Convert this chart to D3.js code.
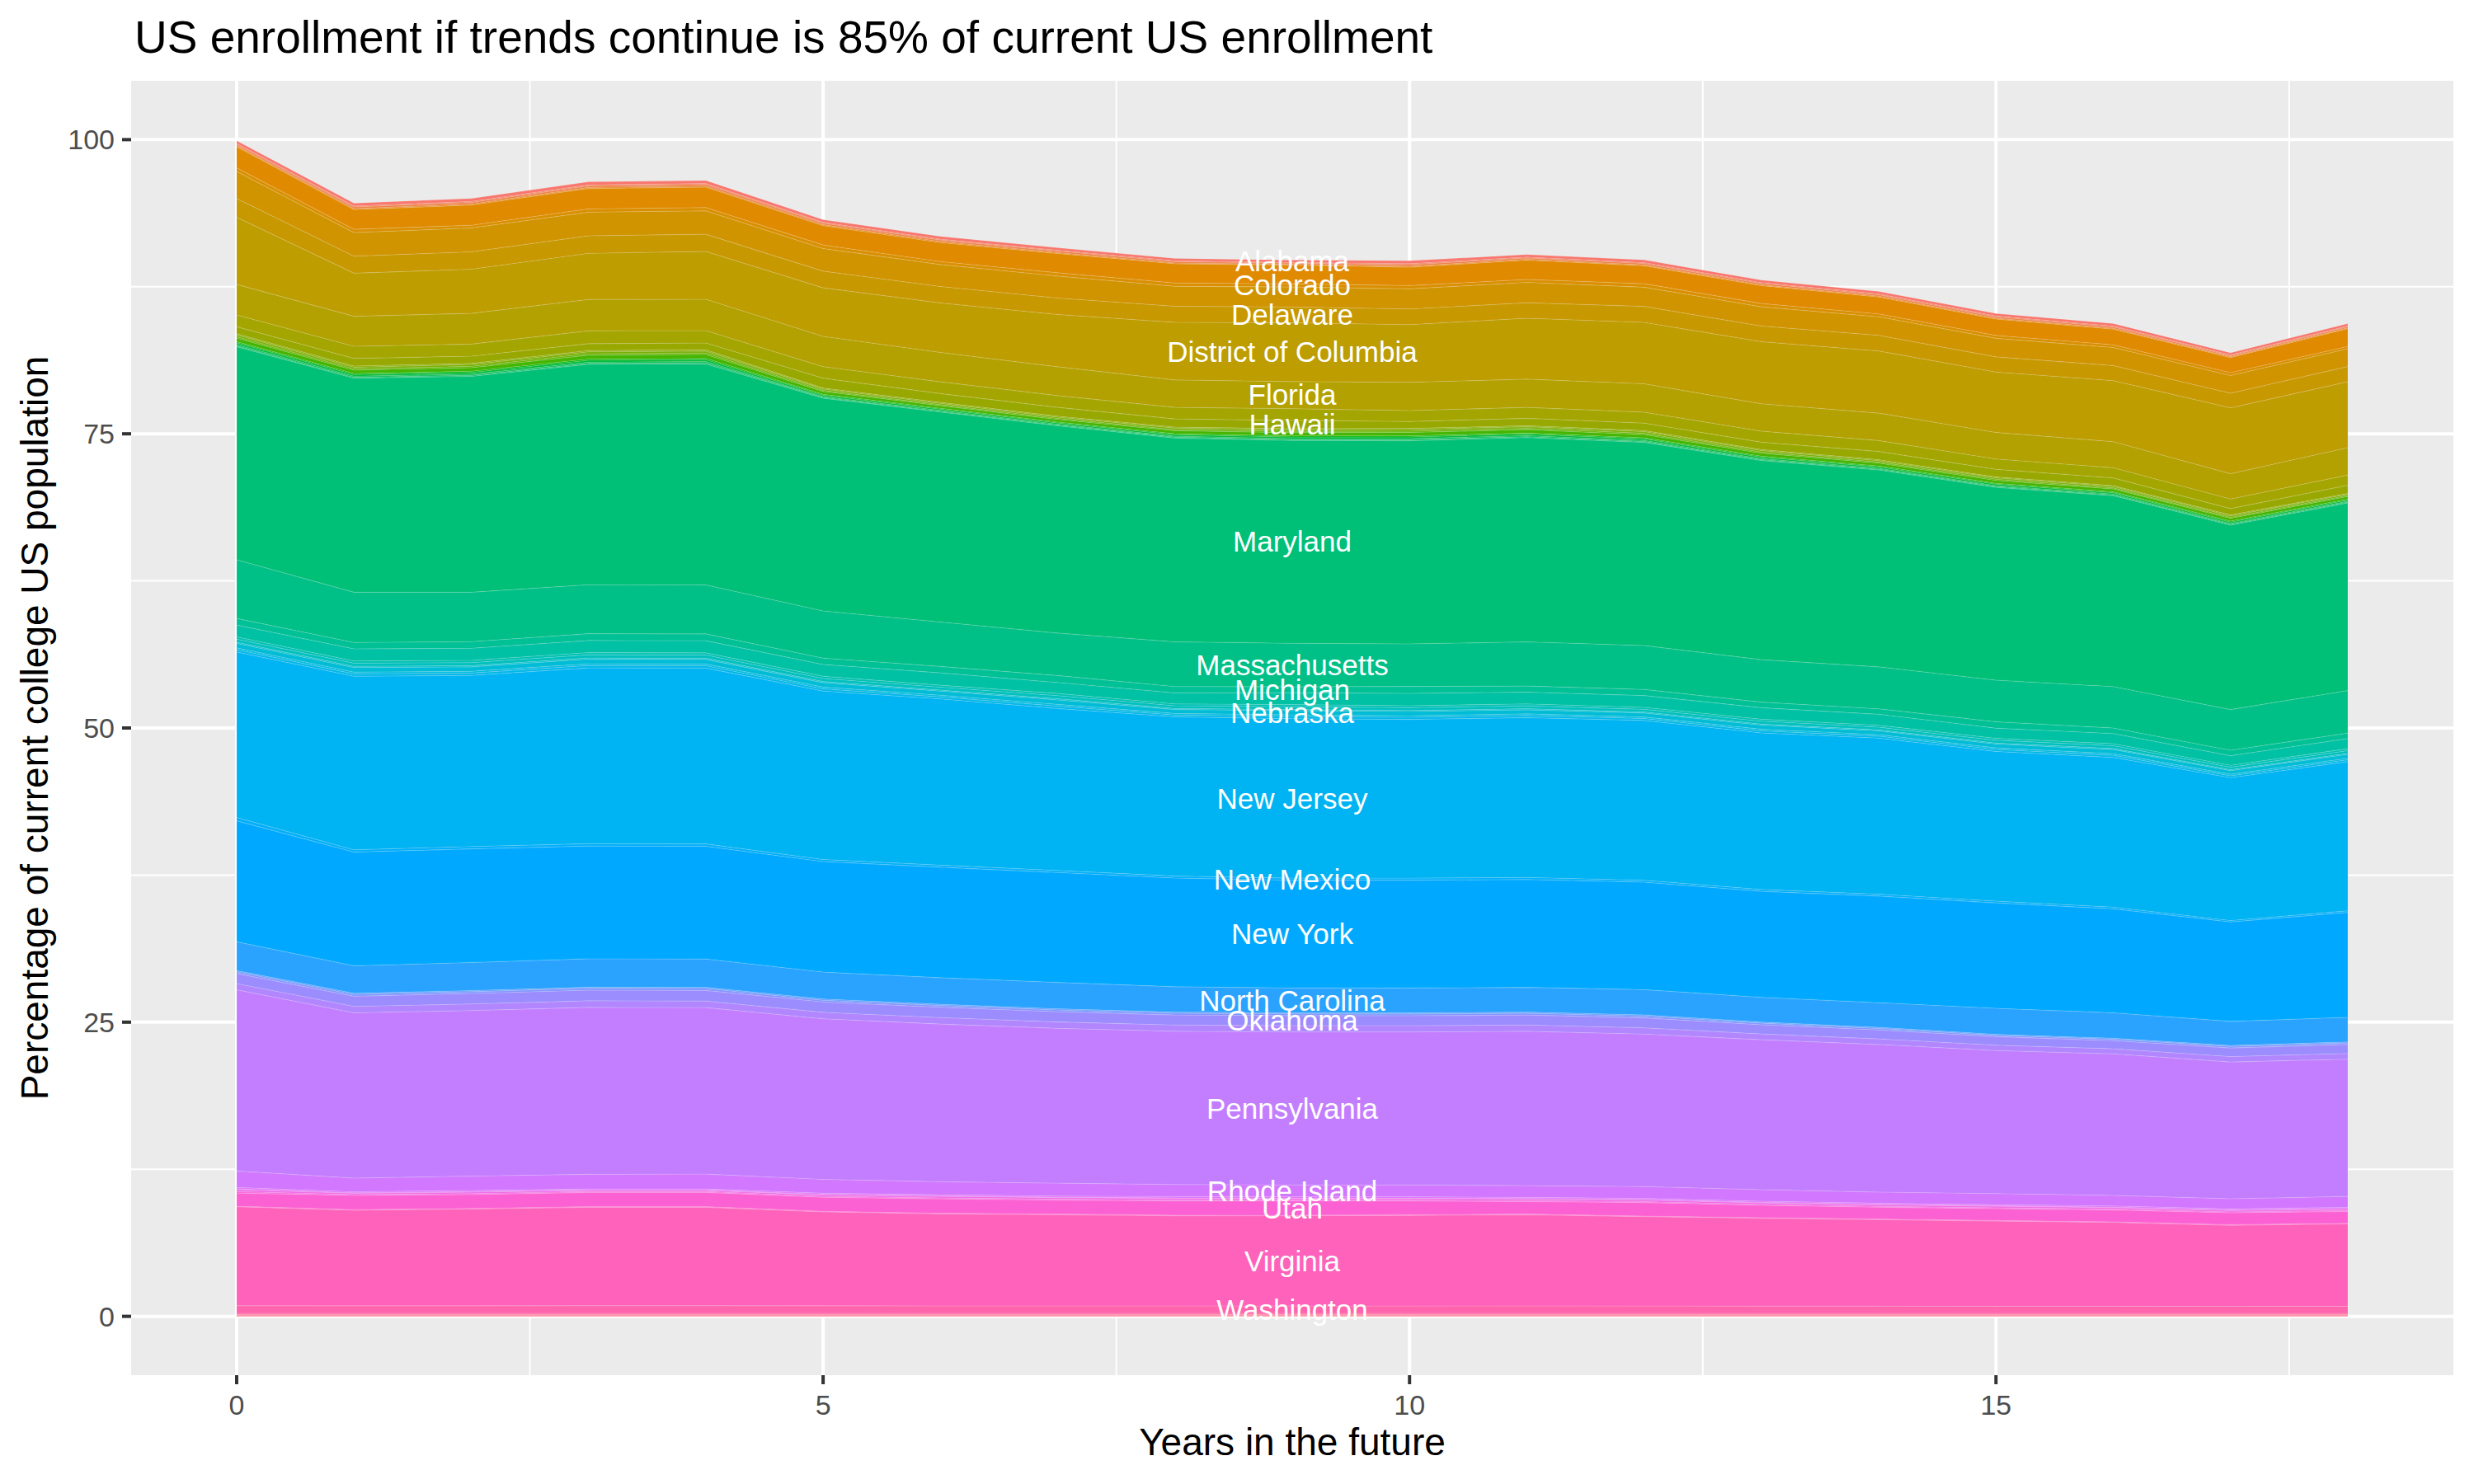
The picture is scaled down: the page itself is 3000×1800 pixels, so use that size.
<!DOCTYPE html>
<html>
<head>
<meta charset="utf-8">
<script src="https://cdn.jsdelivr.net/npm/d3@7"></script>
<style>
  body { margin: 0; background: #ffffff; }
  svg { display: block; }
  text { font-family: "Liberation Sans", Arial, Helvetica, sans-serif; }
</style>
</head>
<body>
<div id="chart"></div>
<script>
// years in the future
var years = [0,1,2,3,4,5,6,7,8,9,10,11,12,13,14,15,16,17,18];

var states = ["Alabama","Alaska","Arizona","Arkansas","California","Colorado","Connecticut","Delaware",
  "District of Columbia","Florida","Georgia","Hawaii","Idaho","Illinois","Indiana","Iowa","Kansas",
  "Kentucky","Louisiana","Maine","Maryland","Massachusetts","Michigan","Minnesota","Mississippi",
  "Missouri","Montana","Nebraska","Nevada","New Hampshire","New Jersey","New Mexico","New York",
  "North Carolina","North Dakota","Ohio","Oklahoma","Oregon","Pennsylvania","Rhode Island",
  "South Carolina","South Dakota","Tennessee","Texas","Utah","Vermont","Virginia","Washington",
  "West Virginia","Wisconsin","Wyoming"];

// states that get a name written on the chart
var labelled = ["Alabama","Colorado","Delaware","District of Columbia","Florida","Hawaii","Maryland",
  "Massachusetts","Michigan","Nebraska","New Jersey","New Mexico","New York","North Carolina",
  "Oklahoma","Pennsylvania","Rhode Island","Utah","Virginia","Washington"];
var labelYear = 9;

// percentage of current college US population, one value per year
var alabama      = [0.22,0.24,0.24,0.25,0.25,0.22,0.23,0.21,0.20,0.19,0.24,0.21,0.22,0.21,0.21,0.20,0.21,0.18,0.19];
var alaska       = [0.07,0.08,0.08,0.08,0.08,0.07,0.07,0.07,0.06,0.06,0.08,0.07,0.07,0.07,0.07,0.07,0.07,0.06,0.06];
var arizona      = [0.13,0.14,0.14,0.14,0.14,0.13,0.13,0.13,0.12,0.11,0.14,0.12,0.13,0.12,0.12,0.12,0.12,0.10,0.11];
var arkansas     = [0.08,0.08,0.09,0.09,0.09,0.09,0.09,0.08,0.07,0.06,0.08,0.07,0.07,0.07,0.07,0.07,0.07,0.06,0.06];
var california   = [1.80,1.68,1.71,1.73,1.73,1.64,1.61,1.63,1.63,1.59,1.56,1.64,1.52,1.51,1.44,1.40,1.33,1.28,1.52];
var colorado     = [0.30,0.28,0.23,0.28,0.28,0.30,0.25,0.28,0.28,0.27,0.28,0.25,0.30,0.28,0.24,0.24,0.23,0.24,0.19];
var connecticut  = [2.30,2.00,2.03,2.01,1.99,1.92,1.87,1.87,1.70,1.70,1.71,1.73,1.63,1.64,1.58,1.58,1.54,1.51,1.51];
var delaware     = [1.60,1.45,1.48,1.49,1.46,1.42,1.40,1.40,1.36,1.34,1.33,1.31,1.36,1.33,1.33,1.29,1.28,1.24,1.29];
var dc           = [5.70,3.66,3.75,3.92,4.07,4.13,4.20,4.44,4.90,5.00,4.90,5.18,5.22,5.27,5.28,5.13,5.19,5.60,5.60];
var florida      = [2.60,2.55,2.61,2.66,2.66,2.57,2.50,2.45,2.33,2.30,2.40,2.40,2.41,2.33,2.33,2.26,2.21,2.15,2.33];
var georgia      = [1.00,1.03,1.03,1.10,1.05,0.98,1.00,1.00,0.98,1.00,0.93,0.93,0.93,0.94,0.93,0.87,0.87,0.81,0.87];
var hawaii       = [0.60,0.65,0.61,0.58,0.58,0.84,0.75,0.75,0.70,0.70,0.59,0.63,0.63,0.63,0.70,0.65,0.65,0.54,0.69];
var idaho        = [0.10,0.10,0.10,0.11,0.11,0.08,0.08,0.08,0.08,0.09,0.09,0.09,0.09,0.08,0.08,0.08,0.08,0.08,0.07];
var illinois     = [0.15,0.14,0.15,0.16,0.16,0.12,0.11,0.11,0.13,0.14,0.14,0.14,0.14,0.13,0.12,0.12,0.12,0.12,0.11];
var indiana      = [0.12,0.11,0.12,0.13,0.13,0.09,0.09,0.09,0.10,0.11,0.11,0.11,0.11,0.10,0.09,0.10,0.09,0.09,0.09];
var iowa         = [0.30,0.28,0.30,0.32,0.33,0.24,0.22,0.22,0.25,0.28,0.29,0.28,0.28,0.25,0.24,0.24,0.23,0.24,0.22];
var kansas       = [0.10,0.09,0.10,0.11,0.11,0.08,0.07,0.07,0.08,0.09,0.09,0.09,0.09,0.08,0.08,0.08,0.08,0.08,0.07];
var kentucky     = [0.15,0.14,0.15,0.16,0.16,0.12,0.11,0.11,0.13,0.14,0.14,0.14,0.14,0.13,0.12,0.12,0.12,0.12,0.11];
var louisiana    = [0.10,0.10,0.10,0.10,0.11,0.07,0.08,0.08,0.09,0.09,0.10,0.09,0.09,0.09,0.08,0.08,0.08,0.08,0.08];
var maine        = [0.08,0.07,0.08,0.08,0.09,0.06,0.06,0.06,0.07,0.06,0.09,0.07,0.07,0.07,0.06,0.07,0.06,0.06,0.07];
var maryland     = [18.10,18.19,18.35,18.73,18.78,18.08,17.84,17.61,17.31,17.24,17.26,17.36,17.26,16.92,16.73,16.38,16.22,15.67,15.94];
var massachusetts= [4.99,4.27,4.20,4.16,4.16,4.01,3.78,3.61,3.81,3.69,3.62,3.75,3.73,3.61,3.57,3.54,3.52,3.46,3.61];
var michigan     = [0.56,0.54,0.56,0.58,0.58,0.54,0.54,0.59,0.54,0.51,0.58,0.52,0.52,0.47,0.46,0.54,0.47,0.46,0.47];
var minnesota    = [1.01,1.03,1.03,1.03,1.03,1.00,1.05,0.93,0.93,1.01,1.05,1.00,1.00,0.98,0.94,0.86,0.86,0.82,0.86];
var mississippi  = [0.19,0.19,0.19,0.19,0.19,0.19,0.17,0.19,0.16,0.18,0.17,0.17,0.17,0.17,0.16,0.17,0.17,0.16,0.16];
var missouri     = [0.26,0.27,0.26,0.27,0.27,0.26,0.24,0.26,0.23,0.24,0.24,0.24,0.23,0.24,0.22,0.23,0.24,0.21,0.23];
var montana      = [0.10,0.10,0.10,0.10,0.10,0.10,0.09,0.10,0.09,0.09,0.09,0.09,0.09,0.09,0.09,0.09,0.09,0.08,0.09];
var nebraska     = [0.38,0.39,0.38,0.39,0.39,0.37,0.35,0.38,0.33,0.36,0.35,0.35,0.33,0.35,0.32,0.33,0.35,0.31,0.33];
var nevada       = [0.15,0.15,0.15,0.15,0.15,0.15,0.14,0.15,0.13,0.14,0.14,0.14,0.13,0.14,0.13,0.13,0.14,0.13,0.13];
var newHampshire = [0.20,0.20,0.20,0.20,0.20,0.19,0.18,0.20,0.16,0.19,0.18,0.18,0.17,0.18,0.17,0.17,0.18,0.16,0.16];
var newJersey    = [14.07,14.75,14.54,14.94,14.94,14.31,14.12,13.77,13.53,13.55,13.49,13.58,13.58,13.30,13.26,12.72,12.72,12.14,12.67];
var newMexico    = [0.28,0.19,0.20,0.20,0.20,0.18,0.18,0.17,0.17,0.17,0.17,0.17,0.16,0.16,0.16,0.15,0.15,0.12,0.14];
var newYork      = [10.28,9.67,9.66,9.58,9.58,9.39,9.39,9.34,9.24,9.16,9.17,9.17,9.13,9.01,9.06,8.96,8.83,8.45,8.92];
var northCarolina= [2.45,2.33,2.38,2.41,2.41,2.29,2.26,2.24,2.15,2.10,2.10,2.10,2.15,2.10,2.10,2.21,2.17,2.05,2.08];
var northDakota  = [0.10,0.10,0.10,0.10,0.10,0.10,0.10,0.10,0.10,0.10,0.10,0.10,0.10,0.09,0.09,0.08,0.08,0.08,0.09];
var ohio         = [0.15,0.15,0.15,0.16,0.16,0.15,0.15,0.15,0.15,0.15,0.15,0.15,0.15,0.14,0.13,0.12,0.12,0.13,0.13];
var oklahoma     = [0.85,0.87,0.89,0.90,0.90,0.88,0.88,0.87,0.85,0.86,0.85,0.85,0.85,0.78,0.76,0.72,0.69,0.73,0.77];
var oregon       = [0.53,0.54,0.56,0.56,0.56,0.55,0.55,0.54,0.53,0.53,0.53,0.53,0.53,0.49,0.47,0.46,0.43,0.46,0.48];
var pennsylvania = [15.40,14.05,14.07,14.19,14.15,13.65,13.40,13.16,13.02,13.00,13.00,13.12,12.96,12.74,12.55,12.16,12.03,11.62,11.67];
var rhodeIsland  = [1.40,1.16,1.22,1.24,1.26,1.17,1.10,1.09,1.03,1.00,1.00,1.00,1.00,0.98,0.94,0.93,0.90,0.86,0.93];
var southCarolina= [0.13,0.09,0.10,0.09,0.09,0.10,0.10,0.10,0.11,0.11,0.11,0.10,0.10,0.10,0.10,0.10,0.10,0.10,0.10];
var southDakota  = [0.05,0.04,0.04,0.04,0.04,0.04,0.04,0.04,0.04,0.04,0.04,0.04,0.04,0.04,0.04,0.04,0.04,0.04,0.04];
var tennessee    = [0.17,0.11,0.13,0.10,0.10,0.13,0.13,0.13,0.14,0.14,0.14,0.14,0.14,0.13,0.13,0.13,0.13,0.12,0.13];
var texas        = [0.12,0.07,0.08,0.07,0.07,0.08,0.08,0.08,0.08,0.08,0.08,0.08,0.08,0.08,0.07,0.07,0.07,0.07,0.08];
var utah         = [1.12,1.21,1.18,1.21,1.21,1.19,1.23,1.19,1.21,1.21,1.17,1.06,1.15,1.05,1.01,1.01,1.01,1.02,1.00];
var vermont      = [0.05,0.05,0.05,0.05,0.05,0.05,0.05,0.05,0.05,0.05,0.05,0.05,0.05,0.05,0.05,0.05,0.05,0.05,0.05];
var virginia     = [8.40,8.12,8.22,8.36,8.36,7.98,7.82,7.75,7.66,7.66,7.70,7.75,7.59,7.47,7.35,7.24,7.12,6.89,7.00];
var washington   = [0.65,0.64,0.64,0.65,0.65,0.64,0.63,0.63,0.63,0.62,0.62,0.63,0.62,0.61,0.61,0.60,0.60,0.59,0.60];
var westVirginia = [0.10,0.10,0.10,0.10,0.10,0.10,0.10,0.10,0.10,0.10,0.10,0.10,0.10,0.10,0.10,0.10,0.10,0.10,0.10];
var wisconsin    = [0.09,0.09,0.09,0.09,0.09,0.09,0.09,0.09,0.09,0.09,0.09,0.09,0.09,0.09,0.09,0.09,0.09,0.09,0.09];
var wyoming      = [0.07,0.07,0.07,0.07,0.07,0.07,0.07,0.07,0.07,0.07,0.07,0.07,0.07,0.07,0.07,0.07,0.07,0.07,0.07];

// same order as states
var series = [alabama,alaska,arizona,arkansas,california,colorado,connecticut,delaware,dc,florida,
  georgia,hawaii,idaho,illinois,indiana,iowa,kansas,kentucky,louisiana,maine,maryland,massachusetts,
  michigan,minnesota,mississippi,missouri,montana,nebraska,nevada,newHampshire,newJersey,newMexico,
  newYork,northCarolina,northDakota,ohio,oklahoma,oregon,pennsylvania,rhodeIsland,southCarolina,
  southDakota,tennessee,texas,utah,vermont,virginia,washington,westVirginia,wisconsin,wyoming];

var yTicks = [0,25,50,75,100];
var xTicks = [0,5,10,15];

// R style hcl() colour (polar CIE-Luv), as used by the ggplot hue palette
function hclLuv(h, c, l){
	var Xn = 95.047, Yn = 100, Zn = 108.883;
	var un = 4*Xn/(Xn+15*Yn+3*Zn), vn = 9*Yn/(Xn+15*Yn+3*Zn);
	var hr = h*Math.PI/180;
	var U = c*Math.cos(hr), V = c*Math.sin(hr);
	var Y = l > 8 ? Yn*Math.pow((l+16)/116, 3) : Yn*l/903.3;
	var u = U/(13*l)+un, v = V/(13*l)+vn;
	var X = 9*Y*u/(4*v);
	var Z = Y*(12-3*u-20*v)/(4*v);
	X/=100; Y/=100; Z/=100;
	var rgb = [ 3.240479*X - 1.537150*Y - 0.498535*Z,
	           -0.969256*X + 1.875992*Y + 0.041556*Z,
	            0.055648*X - 0.204043*Y + 1.057311*Z];
	rgb = rgb.map(function(t){
		t = t <= 0.0031308 ? 12.92*t : 1.055*Math.pow(t, 1/2.4) - 0.055;
		return Math.round(Math.max(0, Math.min(1, t))*255);
	});
	return d3.rgb(rgb[0], rgb[1], rgb[2]).formatHex();
}

var n = states.length;
var colours = states.map(function(s, i){ return hclLuv(15 + i*360/n, 100, 65); });
var colourScale = d3.scaleOrdinal().domain(states).range(colours);

var W = 3000, H = 1800;
var panel = {left:159, top:98, right:2975, bottom:1668};

var svg = d3.select("#chart").append("svg")
	.attr("width", W).attr("height", H)
	.attr("viewBox", "0 0 " + W + " " + H);

var x = d3.scaleLinear().domain([-0.9, 18.9]).range([panel.left, panel.right]);
var y = d3.scaleLinear().domain([-5, 105]).range([panel.bottom, panel.top]);

// panel background and grid
svg.append("rect")
	.attr("x", panel.left).attr("y", panel.top)
	.attr("width", panel.right-panel.left).attr("height", panel.bottom-panel.top)
	.attr("fill", "#EBEBEB");

var g = svg.append("g");
[12.5,37.5,62.5,87.5].forEach(function(v){
	g.append("line").attr("x1", panel.left).attr("x2", panel.right)
		.attr("y1", y(v)).attr("y2", y(v))
		.attr("stroke", "#ffffff").attr("stroke-width", 2);
});
[2.5,7.5,12.5,17.5].forEach(function(v){
	g.append("line").attr("y1", panel.top).attr("y2", panel.bottom)
		.attr("x1", x(v)).attr("x2", x(v))
		.attr("stroke", "#ffffff").attr("stroke-width", 2);
});
yTicks.forEach(function(v){
	g.append("line").attr("x1", panel.left).attr("x2", panel.right)
		.attr("y1", y(v)).attr("y2", y(v))
		.attr("stroke", "#ffffff").attr("stroke-width", 4);
});
xTicks.forEach(function(v){
	g.append("line").attr("y1", panel.top).attr("y2", panel.bottom)
		.attr("x1", x(v)).attr("x2", x(v))
		.attr("stroke", "#ffffff").attr("stroke-width", 4);
});

// stacked areas, Alabama on top so Wyoming goes first
var rows = years.map(function(yr, j){
	var r = {year: yr};
	states.forEach(function(s, i){ r[s] = series[i][j]; });
	return r;
});
var stack = d3.stack().keys(states.slice().reverse());
var layers = stack(rows);

var area = d3.area()
	.x(function(d){ return x(d.data.year); })
	.y0(function(d){ return y(d[0]); })
	.y1(function(d){ return y(d[1]); });

svg.append("g").selectAll(".band").data(layers).enter().append("path")
	.attr("class", "band")
	.attr("d", area)
	.attr("fill", function(d){ return colourScale(d.key); })
	.attr("stroke", "rgba(255,255,255,0.12)")
	.attr("stroke-width", 1.2);

// state names in the middle of their band
var labelData = layers.filter(function(l){ return labelled.indexOf(l.key) >= 0; })
	.map(function(l){
		var p = l[years.indexOf(labelYear)];
		return {name: l.key, v: (p[0]+p[1])/2};
	});
svg.append("g").selectAll(".lab").data(labelData).enter().append("text")
	.attr("class", "lab")
	.attr("x", x(labelYear))
	.attr("y", function(d){ return y(d.v); })
	.attr("dy", "0.35em")
	.attr("text-anchor", "middle")
	.attr("fill", "#ffffff")
	.attr("font-size", 35)
	.text(function(d){ return d.name; });

// axes
var ax = svg.append("g");
yTicks.forEach(function(v){
	ax.append("line").attr("x1", panel.left-11).attr("x2", panel.left)
		.attr("y1", y(v)).attr("y2", y(v))
		.attr("stroke", "#333333").attr("stroke-width", 4);
	ax.append("text").attr("x", panel.left-20).attr("y", y(v)).attr("dy", "0.35em")
		.attr("text-anchor", "end").attr("fill", "#4D4D4D").attr("font-size", 34)
		.text(v);
});
xTicks.forEach(function(v){
	ax.append("line").attr("x1", x(v)).attr("x2", x(v))
		.attr("y1", panel.bottom).attr("y2", panel.bottom+11)
		.attr("stroke", "#333333").attr("stroke-width", 4);
	ax.append("text").attr("x", x(v)).attr("y", 1716)
		.attr("text-anchor", "middle").attr("fill", "#4D4D4D").attr("font-size", 34)
		.text(v);
});

svg.append("text")
	.attr("x", (panel.left+panel.right)/2).attr("y", 1765)
	.attr("text-anchor", "middle").attr("font-size", 46).attr("fill", "#000000")
	.text("Years in the future");

svg.append("text")
	.attr("transform", "translate(58," + ((panel.top+panel.bottom)/2) + ") rotate(-90)")
	.attr("text-anchor", "middle").attr("font-size", 46).attr("fill", "#000000")
	.text("Percentage of current college US population");

svg.append("text")
	.attr("x", 163).attr("y", 64)
	.attr("font-size", 55).attr("fill", "#000000")
	.text("US enrollment if trends continue is 85% of current US enrollment");
</script>
</body>
</html>
